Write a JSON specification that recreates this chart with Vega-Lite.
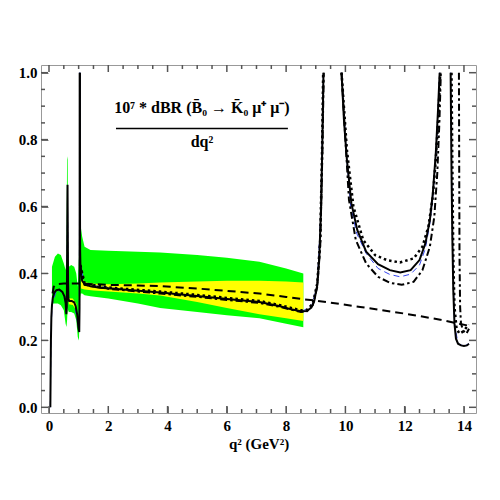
{
  "$schema": "https://vega.github.io/schema/vega-lite/v6.json",
  "width": 435,
  "height": 348,
  "autosize": "none",
  "padding": {"left": 41, "top": 65, "right": 24, "bottom": 87},
  "background": "white",
  "config": {
    "view": {"stroke": "#999999", "strokeWidth": 1},
    "axis": {
      "grid": false,
      "domain": false,
      "ticks": true,
      "tickColor": "#777777",
      "tickWidth": 1,
      "labelFont": "Liberation Serif",
      "labelFontWeight": "bold",
      "labelFontSize": 15,
      "labelColor": "black",
      "titleFont": "Liberation Serif",
      "titleFontWeight": "bold",
      "titleFontSize": 15,
      "titleColor": "black"
    }
  },
  "datasets": {
    "frameticks": [
      {"dim": "x", "kind": "major", "v": 0}, {"dim": "x", "kind": "major", "v": 2}, {"dim": "x", "kind": "major", "v": 4},
      {"dim": "x", "kind": "major", "v": 6}, {"dim": "x", "kind": "major", "v": 8}, {"dim": "x", "kind": "major", "v": 10},
      {"dim": "x", "kind": "major", "v": 12}, {"dim": "x", "kind": "major", "v": 14},
      {"dim": "x", "kind": "minor", "v": 0.5}, {"dim": "x", "kind": "minor", "v": 1}, {"dim": "x", "kind": "minor", "v": 1.5},
      {"dim": "x", "kind": "minor", "v": 2.5}, {"dim": "x", "kind": "minor", "v": 3}, {"dim": "x", "kind": "minor", "v": 3.5},
      {"dim": "x", "kind": "minor", "v": 4.5}, {"dim": "x", "kind": "minor", "v": 5}, {"dim": "x", "kind": "minor", "v": 5.5},
      {"dim": "x", "kind": "minor", "v": 6.5}, {"dim": "x", "kind": "minor", "v": 7}, {"dim": "x", "kind": "minor", "v": 7.5},
      {"dim": "x", "kind": "minor", "v": 8.5}, {"dim": "x", "kind": "minor", "v": 9}, {"dim": "x", "kind": "minor", "v": 9.5},
      {"dim": "x", "kind": "minor", "v": 10.5}, {"dim": "x", "kind": "minor", "v": 11}, {"dim": "x", "kind": "minor", "v": 11.5},
      {"dim": "x", "kind": "minor", "v": 12.5}, {"dim": "x", "kind": "minor", "v": 13}, {"dim": "x", "kind": "minor", "v": 13.5},
      {"dim": "y", "kind": "major", "v": 0}, {"dim": "y", "kind": "major", "v": 0.2}, {"dim": "y", "kind": "major", "v": 0.4},
      {"dim": "y", "kind": "major", "v": 0.6}, {"dim": "y", "kind": "major", "v": 0.8}, {"dim": "y", "kind": "major", "v": 1.0},
      {"dim": "y", "kind": "minor", "v": 0.05}, {"dim": "y", "kind": "minor", "v": 0.1}, {"dim": "y", "kind": "minor", "v": 0.15},
      {"dim": "y", "kind": "minor", "v": 0.25}, {"dim": "y", "kind": "minor", "v": 0.3}, {"dim": "y", "kind": "minor", "v": 0.35},
      {"dim": "y", "kind": "minor", "v": 0.45}, {"dim": "y", "kind": "minor", "v": 0.5}, {"dim": "y", "kind": "minor", "v": 0.55},
      {"dim": "y", "kind": "minor", "v": 0.65}, {"dim": "y", "kind": "minor", "v": 0.7}, {"dim": "y", "kind": "minor", "v": 0.75},
      {"dim": "y", "kind": "minor", "v": 0.85}, {"dim": "y", "kind": "minor", "v": 0.9}, {"dim": "y", "kind": "minor", "v": 0.95}
    ],
    "bands": [
      {"band": "green", "seg": 1, "q2": 0.1, "lo": 0.31, "hi": 0.42},
      {"band": "green", "seg": 1, "q2": 0.2, "lo": 0.31, "hi": 0.45},
      {"band": "green", "seg": 1, "q2": 0.3, "lo": 0.31, "hi": 0.46},
      {"band": "green", "seg": 1, "q2": 0.4, "lo": 0.305, "hi": 0.455},
      {"band": "green", "seg": 1, "q2": 0.5, "lo": 0.29, "hi": 0.43},
      {"band": "green", "seg": 1, "q2": 0.56, "lo": 0.25, "hi": 0.41},
      {"band": "green", "seg": 1, "q2": 0.59, "lo": 0.24, "hi": 0.45},
      {"band": "green", "seg": 1, "q2": 0.61, "lo": 0.26, "hi": 0.75},
      {"band": "green", "seg": 1, "q2": 0.63, "lo": 0.3, "hi": 0.74},
      {"band": "green", "seg": 1, "q2": 0.645, "lo": 0.29, "hi": 0.45},
      {"band": "green", "seg": 1, "q2": 0.67, "lo": 0.285, "hi": 0.42},
      {"band": "green", "seg": 1, "q2": 0.75, "lo": 0.285, "hi": 0.425},
      {"band": "green", "seg": 1, "q2": 0.85, "lo": 0.28, "hi": 0.42},
      {"band": "green", "seg": 1, "q2": 0.92, "lo": 0.26, "hi": 0.4},
      {"band": "green", "seg": 1, "q2": 0.97, "lo": 0.21, "hi": 0.36},
      {"band": "green", "seg": 1, "q2": 1.01, "lo": 0.2, "hi": 0.45},
      {"band": "green", "seg": 1, "q2": 1.039, "lo": 0.3, "hi": 1.0},
      {"band": "green", "seg": 1, "q2": 1.05, "lo": 0.33, "hi": 0.6},
      {"band": "green", "seg": 1, "q2": 1.07, "lo": 0.34, "hi": 0.54},
      {"band": "green", "seg": 1, "q2": 1.12, "lo": 0.34, "hi": 0.51},
      {"band": "green", "seg": 1, "q2": 1.2, "lo": 0.335, "hi": 0.48},
      {"band": "green", "seg": 1, "q2": 1.4, "lo": 0.332, "hi": 0.47},
      {"band": "green", "seg": 1, "q2": 2, "lo": 0.325, "hi": 0.468},
      {"band": "green", "seg": 1, "q2": 3, "lo": 0.31, "hi": 0.465},
      {"band": "green", "seg": 1, "q2": 3.75, "lo": 0.297, "hi": 0.463},
      {"band": "green", "seg": 1, "q2": 5, "lo": 0.285, "hi": 0.455},
      {"band": "green", "seg": 1, "q2": 6, "lo": 0.275, "hi": 0.447},
      {"band": "green", "seg": 1, "q2": 7.1, "lo": 0.266, "hi": 0.435},
      {"band": "green", "seg": 1, "q2": 8, "lo": 0.25, "hi": 0.415},
      {"band": "green", "seg": 1, "q2": 8.58, "lo": 0.239, "hi": 0.4},
      {"band": "yellow", "seg": 1, "q2": 0.67, "lo": 0.308, "hi": 0.326},
      {"band": "yellow", "seg": 1, "q2": 0.8, "lo": 0.306, "hi": 0.325},
      {"band": "yellow", "seg": 1, "q2": 0.92, "lo": 0.29, "hi": 0.31},
      {"band": "yellow", "seg": 2, "q2": 1.08, "lo": 0.355, "hi": 0.39},
      {"band": "yellow", "seg": 2, "q2": 1.2, "lo": 0.352, "hi": 0.374},
      {"band": "yellow", "seg": 2, "q2": 1.5, "lo": 0.349, "hi": 0.369},
      {"band": "yellow", "seg": 2, "q2": 2, "lo": 0.346, "hi": 0.368},
      {"band": "yellow", "seg": 2, "q2": 3, "lo": 0.34, "hi": 0.37},
      {"band": "yellow", "seg": 2, "q2": 3.75, "lo": 0.334, "hi": 0.373},
      {"band": "yellow", "seg": 2, "q2": 5, "lo": 0.315, "hi": 0.376},
      {"band": "yellow", "seg": 2, "q2": 6, "lo": 0.297, "hi": 0.378},
      {"band": "yellow", "seg": 2, "q2": 7.1, "lo": 0.278, "hi": 0.378},
      {"band": "yellow", "seg": 2, "q2": 8, "lo": 0.266, "hi": 0.376},
      {"band": "yellow", "seg": 2, "q2": 8.58, "lo": 0.258, "hi": 0.373}
    ],
    "lines": [
      {"curve": "solid", "seg": 1, "q2": 0.045, "br": 0},
      {"curve": "solid", "seg": 1, "q2": 0.055, "br": 0.1},
      {"curve": "solid", "seg": 1, "q2": 0.065, "br": 0.2},
      {"curve": "solid", "seg": 1, "q2": 0.08, "br": 0.27},
      {"curve": "solid", "seg": 1, "q2": 0.1, "br": 0.305},
      {"curve": "solid", "seg": 1, "q2": 0.13, "br": 0.328},
      {"curve": "solid", "seg": 1, "q2": 0.18, "br": 0.343},
      {"curve": "solid", "seg": 1, "q2": 0.25, "br": 0.35},
      {"curve": "solid", "seg": 1, "q2": 0.35, "br": 0.352},
      {"curve": "solid", "seg": 1, "q2": 0.45, "br": 0.345},
      {"curve": "solid", "seg": 1, "q2": 0.52, "br": 0.332},
      {"curve": "solid", "seg": 1, "q2": 0.56, "br": 0.312},
      {"curve": "solid", "seg": 1, "q2": 0.585, "br": 0.278},
      {"curve": "solid", "seg": 1, "q2": 0.6, "br": 0.3},
      {"curve": "solid", "seg": 1, "q2": 0.612, "br": 0.45},
      {"curve": "solid", "seg": 1, "q2": 0.62, "br": 0.6},
      {"curve": "solid", "seg": 1, "q2": 0.625, "br": 0.665},
      {"curve": "solid", "seg": 1, "q2": 0.632, "br": 0.55},
      {"curve": "solid", "seg": 1, "q2": 0.642, "br": 0.38},
      {"curve": "solid", "seg": 1, "q2": 0.655, "br": 0.325},
      {"curve": "solid", "seg": 1, "q2": 0.68, "br": 0.318},
      {"curve": "solid", "seg": 1, "q2": 0.76, "br": 0.318},
      {"curve": "solid", "seg": 1, "q2": 0.85, "br": 0.314},
      {"curve": "solid", "seg": 1, "q2": 0.9, "br": 0.302},
      {"curve": "solid", "seg": 1, "q2": 0.95, "br": 0.278},
      {"curve": "solid", "seg": 1, "q2": 0.99, "br": 0.24},
      {"curve": "solid", "seg": 1, "q2": 1.02, "br": 0.225},
      {"curve": "solid", "seg": 1, "q2": 1.03, "br": 0.3},
      {"curve": "solid", "seg": 1, "q2": 1.035, "br": 0.6},
      {"curve": "solid", "seg": 1, "q2": 1.039, "br": 1.0},
      {"curve": "solid", "seg": 2, "q2": 1.041, "br": 1.0},
      {"curve": "solid", "seg": 2, "q2": 1.045, "br": 0.6},
      {"curve": "solid", "seg": 2, "q2": 1.05, "br": 0.47},
      {"curve": "solid", "seg": 2, "q2": 1.06, "br": 0.425},
      {"curve": "solid", "seg": 2, "q2": 1.08, "br": 0.395},
      {"curve": "solid", "seg": 2, "q2": 1.12, "br": 0.378},
      {"curve": "solid", "seg": 2, "q2": 1.2, "br": 0.368},
      {"curve": "solid", "seg": 2, "q2": 1.4, "br": 0.362},
      {"curve": "solid", "seg": 2, "q2": 1.72, "br": 0.357},
      {"curve": "solid", "seg": 2, "q2": 2.5, "br": 0.352},
      {"curve": "solid", "seg": 2, "q2": 3.75, "br": 0.343},
      {"curve": "solid", "seg": 2, "q2": 5, "br": 0.333},
      {"curve": "solid", "seg": 2, "q2": 6, "br": 0.324},
      {"curve": "solid", "seg": 2, "q2": 7.1, "br": 0.315},
      {"curve": "solid", "seg": 2, "q2": 7.8, "br": 0.302},
      {"curve": "solid", "seg": 2, "q2": 8.2, "br": 0.292},
      {"curve": "solid", "seg": 2, "q2": 8.5, "br": 0.287},
      {"curve": "solid", "seg": 2, "q2": 8.7, "br": 0.288},
      {"curve": "solid", "seg": 2, "q2": 8.85, "br": 0.298},
      {"curve": "solid", "seg": 2, "q2": 8.95, "br": 0.318},
      {"curve": "solid", "seg": 2, "q2": 9.05, "br": 0.365},
      {"curve": "solid", "seg": 2, "q2": 9.12, "br": 0.45},
      {"curve": "solid", "seg": 2, "q2": 9.18, "br": 0.6},
      {"curve": "solid", "seg": 2, "q2": 9.22, "br": 0.78},
      {"curve": "solid", "seg": 2, "q2": 9.26, "br": 1.0},
      {"curve": "solid", "seg": 3, "q2": 9.87, "br": 1.0},
      {"curve": "solid", "seg": 3, "q2": 9.95, "br": 0.86},
      {"curve": "solid", "seg": 3, "q2": 10.04, "br": 0.75},
      {"curve": "solid", "seg": 3, "q2": 10.2, "br": 0.61},
      {"curve": "solid", "seg": 3, "q2": 10.4, "br": 0.53},
      {"curve": "solid", "seg": 3, "q2": 10.7, "br": 0.465},
      {"curve": "solid", "seg": 3, "q2": 11.1, "br": 0.428},
      {"curve": "solid", "seg": 3, "q2": 11.5, "br": 0.41},
      {"curve": "solid", "seg": 3, "q2": 11.85, "br": 0.403},
      {"curve": "solid", "seg": 3, "q2": 12.2, "br": 0.41},
      {"curve": "solid", "seg": 3, "q2": 12.5, "br": 0.44},
      {"curve": "solid", "seg": 3, "q2": 12.7, "br": 0.49},
      {"curve": "solid", "seg": 3, "q2": 12.85, "br": 0.56},
      {"curve": "solid", "seg": 3, "q2": 12.95, "br": 0.64},
      {"curve": "solid", "seg": 3, "q2": 13.05, "br": 0.76},
      {"curve": "solid", "seg": 3, "q2": 13.12, "br": 0.88},
      {"curve": "solid", "seg": 3, "q2": 13.18, "br": 1.0},
      {"curve": "solid", "seg": 4, "q2": 13.55, "br": 1.0},
      {"curve": "solid", "seg": 4, "q2": 13.58, "br": 0.7},
      {"curve": "solid", "seg": 4, "q2": 13.61, "br": 0.5},
      {"curve": "solid", "seg": 4, "q2": 13.64, "br": 0.35},
      {"curve": "solid", "seg": 4, "q2": 13.68, "br": 0.25},
      {"curve": "solid", "seg": 4, "q2": 13.73, "br": 0.205},
      {"curve": "solid", "seg": 4, "q2": 13.8, "br": 0.19},
      {"curve": "solid", "seg": 4, "q2": 13.9, "br": 0.185},
      {"curve": "solid", "seg": 4, "q2": 14.0, "br": 0.183},
      {"curve": "solid", "seg": 4, "q2": 14.1, "br": 0.185},
      {"curve": "solid", "seg": 4, "q2": 14.17, "br": 0.19},
      {"curve": "dashed", "seg": 1, "q2": 0.12, "br": 0.34},
      {"curve": "dashed", "seg": 1, "q2": 0.16, "br": 0.36},
      {"curve": "dashed", "seg": 1, "q2": 0.25, "br": 0.368},
      {"curve": "dashed", "seg": 1, "q2": 0.5, "br": 0.37},
      {"curve": "dashed", "seg": 1, "q2": 1.0, "br": 0.37},
      {"curve": "dashed", "seg": 1, "q2": 1.5, "br": 0.368},
      {"curve": "dashed", "seg": 1, "q2": 2, "br": 0.366},
      {"curve": "dashed", "seg": 1, "q2": 3, "br": 0.364},
      {"curve": "dashed", "seg": 1, "q2": 3.75, "br": 0.362},
      {"curve": "dashed", "seg": 1, "q2": 5, "br": 0.355},
      {"curve": "dashed", "seg": 1, "q2": 6, "br": 0.348},
      {"curve": "dashed", "seg": 1, "q2": 7.1, "br": 0.34},
      {"curve": "dashed", "seg": 1, "q2": 8, "br": 0.33},
      {"curve": "dashed", "seg": 1, "q2": 8.58, "br": 0.323},
      {"curve": "dashed", "seg": 1, "q2": 9, "br": 0.319},
      {"curve": "dashed", "seg": 1, "q2": 10.5, "br": 0.3},
      {"curve": "dashed", "seg": 1, "q2": 12, "br": 0.28},
      {"curve": "dashed", "seg": 1, "q2": 13.2, "br": 0.262},
      {"curve": "dashed", "seg": 1, "q2": 14.2, "br": 0.243},
      {"curve": "dotted", "seg": 1, "q2": 1.06, "br": 0.425},
      {"curve": "dotted", "seg": 1, "q2": 1.2, "br": 0.37},
      {"curve": "dotted", "seg": 1, "q2": 2, "br": 0.358},
      {"curve": "dotted", "seg": 1, "q2": 3.75, "br": 0.346},
      {"curve": "dotted", "seg": 1, "q2": 5, "br": 0.336},
      {"curve": "dotted", "seg": 1, "q2": 6, "br": 0.327},
      {"curve": "dotted", "seg": 1, "q2": 7.1, "br": 0.318},
      {"curve": "dotted", "seg": 1, "q2": 7.8, "br": 0.305},
      {"curve": "dotted", "seg": 1, "q2": 8.5, "br": 0.29},
      {"curve": "dotted", "seg": 1, "q2": 8.7, "br": 0.291},
      {"curve": "dotted", "seg": 1, "q2": 8.9, "br": 0.31},
      {"curve": "dotted", "seg": 1, "q2": 9.05, "br": 0.37},
      {"curve": "dotted", "seg": 1, "q2": 9.15, "br": 0.5},
      {"curve": "dotted", "seg": 1, "q2": 9.21, "br": 0.75},
      {"curve": "dotted", "seg": 1, "q2": 9.25, "br": 1.0},
      {"curve": "dotted", "seg": 2, "q2": 9.87, "br": 1.0},
      {"curve": "dotted", "seg": 2, "q2": 10.05, "br": 0.77},
      {"curve": "dotted", "seg": 2, "q2": 10.27, "br": 0.6},
      {"curve": "dotted", "seg": 2, "q2": 10.6, "br": 0.5},
      {"curve": "dotted", "seg": 2, "q2": 11.0, "br": 0.455},
      {"curve": "dotted", "seg": 2, "q2": 11.4, "br": 0.44},
      {"curve": "dotted", "seg": 2, "q2": 11.84, "br": 0.433},
      {"curve": "dotted", "seg": 2, "q2": 12.3, "br": 0.445},
      {"curve": "dotted", "seg": 2, "q2": 12.6, "br": 0.48},
      {"curve": "dotted", "seg": 2, "q2": 12.8, "br": 0.54},
      {"curve": "dotted", "seg": 2, "q2": 12.95, "br": 0.63},
      {"curve": "dotted", "seg": 2, "q2": 13.05, "br": 0.74},
      {"curve": "dotted", "seg": 2, "q2": 13.13, "br": 0.86},
      {"curve": "dotted", "seg": 2, "q2": 13.2, "br": 1.0},
      {"curve": "dotted", "seg": 3, "q2": 13.58, "br": 1.0},
      {"curve": "dotted", "seg": 3, "q2": 13.61, "br": 0.7},
      {"curve": "dotted", "seg": 3, "q2": 13.64, "br": 0.45},
      {"curve": "dotted", "seg": 3, "q2": 13.68, "br": 0.3},
      {"curve": "dotted", "seg": 3, "q2": 13.75, "br": 0.235},
      {"curve": "dotted", "seg": 3, "q2": 13.85, "br": 0.22},
      {"curve": "dotted", "seg": 3, "q2": 14.0, "br": 0.228},
      {"curve": "dotted", "seg": 3, "q2": 14.15, "br": 0.248},
      {"curve": "dashdot", "seg": 1, "q2": 1.06, "br": 0.42},
      {"curve": "dashdot", "seg": 1, "q2": 1.2, "br": 0.366},
      {"curve": "dashdot", "seg": 1, "q2": 2, "br": 0.354},
      {"curve": "dashdot", "seg": 1, "q2": 3.75, "br": 0.34},
      {"curve": "dashdot", "seg": 1, "q2": 5, "br": 0.33},
      {"curve": "dashdot", "seg": 1, "q2": 6, "br": 0.321},
      {"curve": "dashdot", "seg": 1, "q2": 7.1, "br": 0.312},
      {"curve": "dashdot", "seg": 1, "q2": 7.8, "br": 0.3},
      {"curve": "dashdot", "seg": 1, "q2": 8.5, "br": 0.285},
      {"curve": "dashdot", "seg": 1, "q2": 8.7, "br": 0.287},
      {"curve": "dashdot", "seg": 1, "q2": 8.9, "br": 0.305},
      {"curve": "dashdot", "seg": 1, "q2": 9.05, "br": 0.36},
      {"curve": "dashdot", "seg": 1, "q2": 9.15, "br": 0.48},
      {"curve": "dashdot", "seg": 1, "q2": 9.22, "br": 0.75},
      {"curve": "dashdot", "seg": 1, "q2": 9.27, "br": 1.0},
      {"curve": "dashdot", "seg": 2, "q2": 9.87, "br": 1.0},
      {"curve": "dashdot", "seg": 2, "q2": 10.0, "br": 0.8},
      {"curve": "dashdot", "seg": 2, "q2": 10.12, "br": 0.62},
      {"curve": "dashdot", "seg": 2, "q2": 10.35, "br": 0.5},
      {"curve": "dashdot", "seg": 2, "q2": 10.7, "br": 0.43},
      {"curve": "dashdot", "seg": 2, "q2": 11.1, "br": 0.39},
      {"curve": "dashdot", "seg": 2, "q2": 11.5, "br": 0.372},
      {"curve": "dashdot", "seg": 2, "q2": 11.9, "br": 0.366},
      {"curve": "dashdot", "seg": 2, "q2": 12.3, "br": 0.375},
      {"curve": "dashdot", "seg": 2, "q2": 12.6, "br": 0.41},
      {"curve": "dashdot", "seg": 2, "q2": 12.85, "br": 0.48},
      {"curve": "dashdot", "seg": 2, "q2": 13.0, "br": 0.57},
      {"curve": "dashdot", "seg": 2, "q2": 13.1, "br": 0.7},
      {"curve": "dashdot", "seg": 2, "q2": 13.17, "br": 0.85},
      {"curve": "dashdot", "seg": 2, "q2": 13.22, "br": 1.0},
      {"curve": "dashdot", "seg": 3, "q2": 13.83, "br": 1.0},
      {"curve": "dashdot", "seg": 3, "q2": 13.84, "br": 0.7},
      {"curve": "dashdot", "seg": 3, "q2": 13.85, "br": 0.45},
      {"curve": "dashdot", "seg": 3, "q2": 13.87, "br": 0.3},
      {"curve": "dashdot", "seg": 3, "q2": 13.9, "br": 0.25},
      {"curve": "dashdot", "seg": 3, "q2": 13.97, "br": 0.23},
      {"curve": "dashdot", "seg": 3, "q2": 14.08, "br": 0.22},
      {"curve": "dashdot", "seg": 3, "q2": 14.17, "br": 0.235},
      {"curve": "blue", "seg": 1, "q2": 0.045, "br": 0},
      {"curve": "blue", "seg": 1, "q2": 0.065, "br": 0.2},
      {"curve": "blue", "seg": 1, "q2": 0.1, "br": 0.305},
      {"curve": "blue", "seg": 1, "q2": 0.25, "br": 0.35},
      {"curve": "blue", "seg": 1, "q2": 0.45, "br": 0.345},
      {"curve": "blue", "seg": 1, "q2": 0.56, "br": 0.312},
      {"curve": "blue", "seg": 1, "q2": 0.585, "br": 0.278},
      {"curve": "blue", "seg": 1, "q2": 0.625, "br": 0.6},
      {"curve": "blue", "seg": 1, "q2": 0.655, "br": 0.325},
      {"curve": "blue", "seg": 1, "q2": 0.85, "br": 0.314},
      {"curve": "blue", "seg": 1, "q2": 0.99, "br": 0.24},
      {"curve": "blue", "seg": 1, "q2": 1.02, "br": 0.225},
      {"curve": "blue", "seg": 1, "q2": 1.039, "br": 1.0},
      {"curve": "blue", "seg": 2, "q2": 1.041, "br": 1.0},
      {"curve": "blue", "seg": 2, "q2": 1.06, "br": 0.425},
      {"curve": "blue", "seg": 2, "q2": 1.2, "br": 0.368},
      {"curve": "blue", "seg": 2, "q2": 2.5, "br": 0.352},
      {"curve": "blue", "seg": 2, "q2": 5, "br": 0.333},
      {"curve": "blue", "seg": 2, "q2": 7.1, "br": 0.315},
      {"curve": "blue", "seg": 2, "q2": 8.5, "br": 0.287},
      {"curve": "blue", "seg": 2, "q2": 8.85, "br": 0.298},
      {"curve": "blue", "seg": 2, "q2": 9.05, "br": 0.365},
      {"curve": "blue", "seg": 2, "q2": 9.18, "br": 0.6},
      {"curve": "blue", "seg": 2, "q2": 9.26, "br": 1.0},
      {"curve": "blue", "seg": 3, "q2": 9.87, "br": 1.0},
      {"curve": "blue", "seg": 3, "q2": 10.04, "br": 0.75},
      {"curve": "blue", "seg": 3, "q2": 10.18, "br": 0.6},
      {"curve": "blue", "seg": 3, "q2": 10.38, "br": 0.52},
      {"curve": "blue", "seg": 3, "q2": 10.7, "br": 0.46},
      {"curve": "blue", "seg": 3, "q2": 11.1, "br": 0.415},
      {"curve": "blue", "seg": 3, "q2": 11.5, "br": 0.397},
      {"curve": "blue", "seg": 3, "q2": 11.85, "br": 0.39},
      {"curve": "blue", "seg": 3, "q2": 12.2, "br": 0.398},
      {"curve": "blue", "seg": 3, "q2": 12.5, "br": 0.425},
      {"curve": "blue", "seg": 3, "q2": 12.7, "br": 0.475},
      {"curve": "blue", "seg": 3, "q2": 12.85, "br": 0.55},
      {"curve": "blue", "seg": 3, "q2": 12.95, "br": 0.63},
      {"curve": "blue", "seg": 3, "q2": 13.05, "br": 0.75},
      {"curve": "blue", "seg": 3, "q2": 13.12, "br": 0.87},
      {"curve": "blue", "seg": 3, "q2": 13.18, "br": 1.0},
      {"curve": "blue", "seg": 4, "q2": 13.55, "br": 1.0},
      {"curve": "blue", "seg": 4, "q2": 13.61, "br": 0.5},
      {"curve": "blue", "seg": 4, "q2": 13.68, "br": 0.25},
      {"curve": "blue", "seg": 4, "q2": 13.8, "br": 0.19},
      {"curve": "blue", "seg": 4, "q2": 14.0, "br": 0.183},
      {"curve": "blue", "seg": 4, "q2": 14.17, "br": 0.19}
    ]
  },
  "resolve": {"axis": {"x": "independent", "y": "independent"}},
  "layer": [
    {
      "data": {"name": "bands"},
      "transform": [{"filter": "datum.band === 'green'"}],
      "mark": {"type": "area", "color": "#00ff00", "opacity": 1},
      "encoding": {
        "x": {"field": "q2", "type": "quantitative",
              "scale": {"domain": [-0.27, 14.406], "nice": false, "zero": false},
              "axis": {"orient": "bottom", "offset": -7, "values": [0, 2, 4, 6, 8, 10, 12, 14], "tickSize": 7, "labelPadding": 5, "format": "d", "title": "q²  (GeV²)", "titlePadding": 3}},
        "y": {"field": "lo", "type": "quantitative",
              "scale": {"domain": [-0.017, 1.023], "nice": false, "zero": false},
              "axis": {"orient": "left", "offset": -7, "values": [0, 0.2, 0.4, 0.6, 0.8, 1.0], "tickSize": 7, "labelPadding": 4, "format": ".1f", "title": null}},
        "y2": {"field": "hi"},
        "detail": {"field": "seg"}
      }
    },
    {
      "data": {"name": "bands"},
      "transform": [{"filter": "datum.band === 'yellow'"}],
      "mark": {"type": "area", "color": "#ffff00", "opacity": 1},
      "encoding": {
        "x": {"field": "q2", "type": "quantitative", "scale": {"domain": [-0.27, 14.406], "nice": false, "zero": false}, "axis": null},
        "y": {"field": "lo", "type": "quantitative", "scale": {"domain": [-0.017, 1.023], "nice": false, "zero": false}, "axis": null},
        "y2": {"field": "hi"},
        "detail": {"field": "seg"}
      }
    },
    {
      "data": {"name": "lines"},
      "transform": [{"filter": "datum.curve === 'blue'"}],
      "mark": {"type": "line", "color": "#3344ee", "strokeWidth": 1, "strokeDash": [6, 4]},
      "encoding": {
        "x": {"field": "q2", "type": "quantitative", "scale": {"domain": [-0.27, 14.406], "nice": false, "zero": false}, "axis": null},
        "y": {"field": "br", "type": "quantitative", "scale": {"domain": [-0.017, 1.023], "nice": false, "zero": false}, "axis": null},
        "detail": {"field": "seg"}
      }
    },
    {
      "data": {"name": "lines"},
      "transform": [{"filter": "datum.curve === 'dashed'"}],
      "mark": {"type": "line", "color": "black", "strokeWidth": 2, "strokeDash": [8, 5]},
      "encoding": {
        "x": {"field": "q2", "type": "quantitative", "scale": {"domain": [-0.27, 14.406], "nice": false, "zero": false}, "axis": null},
        "y": {"field": "br", "type": "quantitative", "scale": {"domain": [-0.017, 1.023], "nice": false, "zero": false}, "axis": null},
        "detail": {"field": "seg"}
      }
    },
    {
      "data": {"name": "lines"},
      "transform": [{"filter": "datum.curve === 'dotted'"}],
      "mark": {"type": "line", "color": "black", "strokeWidth": 2.5, "strokeDash": [2.5, 3]},
      "encoding": {
        "x": {"field": "q2", "type": "quantitative", "scale": {"domain": [-0.27, 14.406], "nice": false, "zero": false}, "axis": null},
        "y": {"field": "br", "type": "quantitative", "scale": {"domain": [-0.017, 1.023], "nice": false, "zero": false}, "axis": null},
        "detail": {"field": "seg"}
      }
    },
    {
      "data": {"name": "lines"},
      "transform": [{"filter": "datum.curve === 'dashdot'"}],
      "mark": {"type": "line", "color": "black", "strokeWidth": 2, "strokeDash": [7, 3, 2.5, 3]},
      "encoding": {
        "x": {"field": "q2", "type": "quantitative", "scale": {"domain": [-0.27, 14.406], "nice": false, "zero": false}, "axis": null},
        "y": {"field": "br", "type": "quantitative", "scale": {"domain": [-0.017, 1.023], "nice": false, "zero": false}, "axis": null},
        "detail": {"field": "seg"}
      }
    },
    {
      "data": {"name": "lines"},
      "transform": [{"filter": "datum.curve === 'solid'"}],
      "mark": {"type": "line", "color": "black", "strokeWidth": 2},
      "encoding": {
        "x": {"field": "q2", "type": "quantitative", "scale": {"domain": [-0.27, 14.406], "nice": false, "zero": false}, "axis": null},
        "y": {"field": "br", "type": "quantitative", "scale": {"domain": [-0.017, 1.023], "nice": false, "zero": false}, "axis": null},
        "detail": {"field": "seg"}
      }
    },
    {
      "data": {"name": "frameticks"},
      "transform": [{"filter": "datum.dim === 'x' && datum.kind === 'major'"}],
      "mark": {"type": "rule", "color": "#555555", "strokeWidth": 1.5},
      "encoding": {
        "x": {"field": "v", "type": "quantitative", "scale": {"domain": [-0.27, 14.406], "nice": false, "zero": false}, "axis": null},
        "y": {"datum": -0.017, "type": "quantitative", "scale": {"domain": [-0.017, 1.023], "nice": false, "zero": false}, "axis": null},
        "y2": {"datum": 0.004}
      }
    },
    {
      "data": {"name": "frameticks"},
      "transform": [{"filter": "datum.dim === 'x' && datum.kind === 'minor'"}],
      "mark": {"type": "rule", "color": "#555555", "strokeWidth": 1.5},
      "encoding": {
        "x": {"field": "v", "type": "quantitative", "scale": {"domain": [-0.27, 14.406], "nice": false, "zero": false}, "axis": null},
        "y": {"datum": -0.017, "type": "quantitative", "scale": {"domain": [-0.017, 1.023], "nice": false, "zero": false}, "axis": null},
        "y2": {"datum": -0.005}
      }
    },
    {
      "data": {"name": "frameticks"},
      "transform": [{"filter": "datum.dim === 'x' && datum.kind === 'major'"}],
      "mark": {"type": "rule", "color": "#555555", "strokeWidth": 1.5},
      "encoding": {
        "x": {"field": "v", "type": "quantitative", "scale": {"domain": [-0.27, 14.406], "nice": false, "zero": false}, "axis": null},
        "y": {"datum": 1.023, "type": "quantitative", "scale": {"domain": [-0.017, 1.023], "nice": false, "zero": false}, "axis": null},
        "y2": {"datum": 1.002}
      }
    },
    {
      "data": {"name": "frameticks"},
      "transform": [{"filter": "datum.dim === 'x' && datum.kind === 'minor'"}],
      "mark": {"type": "rule", "color": "#555555", "strokeWidth": 1.5},
      "encoding": {
        "x": {"field": "v", "type": "quantitative", "scale": {"domain": [-0.27, 14.406], "nice": false, "zero": false}, "axis": null},
        "y": {"datum": 1.023, "type": "quantitative", "scale": {"domain": [-0.017, 1.023], "nice": false, "zero": false}, "axis": null},
        "y2": {"datum": 1.011}
      }
    },
    {
      "data": {"name": "frameticks"},
      "transform": [{"filter": "datum.dim === 'y' && datum.kind === 'major'"}],
      "mark": {"type": "rule", "color": "#555555", "strokeWidth": 1.5},
      "encoding": {
        "y": {"field": "v", "type": "quantitative", "scale": {"domain": [-0.017, 1.023], "nice": false, "zero": false}, "axis": null},
        "x": {"datum": -0.27, "type": "quantitative", "scale": {"domain": [-0.27, 14.406], "nice": false, "zero": false}, "axis": null},
        "x2": {"datum": -0.034}
      }
    },
    {
      "data": {"name": "frameticks"},
      "transform": [{"filter": "datum.dim === 'y' && datum.kind === 'minor'"}],
      "mark": {"type": "rule", "color": "#555555", "strokeWidth": 1.5},
      "encoding": {
        "y": {"field": "v", "type": "quantitative", "scale": {"domain": [-0.017, 1.023], "nice": false, "zero": false}, "axis": null},
        "x": {"datum": -0.27, "type": "quantitative", "scale": {"domain": [-0.27, 14.406], "nice": false, "zero": false}, "axis": null},
        "x2": {"datum": -0.135}
      }
    },
    {
      "data": {"name": "frameticks"},
      "transform": [{"filter": "datum.dim === 'y' && datum.kind === 'major'"}],
      "mark": {"type": "rule", "color": "#555555", "strokeWidth": 1.5},
      "encoding": {
        "y": {"field": "v", "type": "quantitative", "scale": {"domain": [-0.017, 1.023], "nice": false, "zero": false}, "axis": null},
        "x": {"datum": 14.406, "type": "quantitative", "scale": {"domain": [-0.27, 14.406], "nice": false, "zero": false}, "axis": null},
        "x2": {"datum": 14.17}
      }
    },
    {
      "data": {"name": "frameticks"},
      "transform": [{"filter": "datum.dim === 'y' && datum.kind === 'minor'"}],
      "mark": {"type": "rule", "color": "#555555", "strokeWidth": 1.5},
      "encoding": {
        "y": {"field": "v", "type": "quantitative", "scale": {"domain": [-0.017, 1.023], "nice": false, "zero": false}, "axis": null},
        "x": {"datum": 14.406, "type": "quantitative", "scale": {"domain": [-0.27, 14.406], "nice": false, "zero": false}, "axis": null},
        "x2": {"datum": 14.271}
      }
    },
    {
      "data": {"values": [{}]},
      "mark": {"type": "rule", "color": "black", "strokeWidth": 1.5},
      "encoding": {
        "x": {"datum": 2.26, "type": "quantitative", "scale": {"domain": [-0.27, 14.406], "nice": false, "zero": false}, "axis": null},
        "x2": {"datum": 8.06},
        "y": {"datum": 0.833, "type": "quantitative", "scale": {"domain": [-0.017, 1.023], "nice": false, "zero": false}, "axis": null}
      }
    },
    {
      "data": {"values": [{}]},
      "mark": {"type": "text", "font": "Liberation Serif", "fontWeight": "bold", "fontSize": 16, "align": "center", "baseline": "alphabetic", "color": "black"},
      "encoding": {
        "x": {"datum": 5.16, "type": "quantitative", "scale": {"domain": [-0.27, 14.406], "nice": false, "zero": false}, "axis": null},
        "y": {"datum": 0.881, "type": "quantitative", "scale": {"domain": [-0.017, 1.023], "nice": false, "zero": false}, "axis": null},
        "text": {"value": "10⁷ * dBR (B̄₀ → K̄₀  μ⁺ μ⁻)"}
      }
    },
    {
      "data": {"values": [{}]},
      "mark": {"type": "text", "font": "Liberation Serif", "fontWeight": "bold", "fontSize": 16, "align": "center", "baseline": "alphabetic", "color": "black"},
      "encoding": {
        "x": {"datum": 5.16, "type": "quantitative", "scale": {"domain": [-0.27, 14.406], "nice": false, "zero": false}, "axis": null},
        "y": {"datum": 0.777, "type": "quantitative", "scale": {"domain": [-0.017, 1.023], "nice": false, "zero": false}, "axis": null},
        "text": {"value": "dq²"}
      }
    }
  ]
}
